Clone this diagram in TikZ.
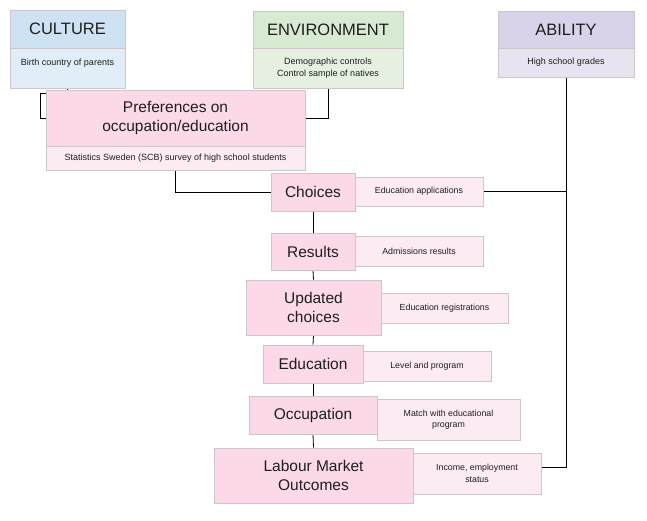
\documentclass[tikz,border=0pt]{standalone}
\usepackage{fontspec}
\setmainfont{Liberation Sans}
\usetikzlibrary{backgrounds}
\definecolor{cultH}{HTML}{CFE2F3}
\definecolor{cultB}{HTML}{E1EDF8}
\definecolor{envH}{HTML}{D9EAD3}
\definecolor{envB}{HTML}{E6F0E1}
\definecolor{abH}{HTML}{D9D2E9}
\definecolor{abB}{HTML}{E7E3F1}
\definecolor{pinkM}{HTML}{FCD9E8}
\definecolor{pinkA}{HTML}{FDEBF3}
\definecolor{bord}{HTML}{CFC6CA}
\definecolor{txt}{HTML}{1E1E1E}
\tikzset{
  box/.style={draw=bord, line width=0.6pt, inner sep=0pt, align=center, text=txt, anchor=center},
  hdr/.style={box, font=\fontsize{16.5}{19}\selectfont},
  sub/.style={box, font=\fontsize{9}{11.5}\selectfont},
  mainbox/.style={box, fill=pinkM, font=\fontsize{15.5}{18.5}\selectfont},
  ann/.style={box, fill=pinkA, font=\fontsize{8.8}{11.5}\selectfont},
  link/.style={line width=0.8pt, black}
}
\begin{document}
\begin{tikzpicture}[x=1pt,y=-1pt]
\useasboundingbox (0,0) rectangle (647,521);
% top categories
\node[hdr, fill=cultH, minimum width=115, minimum height=38] (culh) at (67.5,29) {CULTURE};
\node[sub, fill=cultB, minimum width=115, minimum height=40] (culb) at (67.5,68) {Birth country of parents\\\mbox{}};
\node[hdr, fill=envH, minimum width=150, minimum height=37] (envh) at (328,29.5) {ENVIRONMENT};
\node[sub, fill=envB, minimum width=150, minimum height=40] (envb) at (328,68) {Demographic controls\\Control sample of natives};
\node[hdr, fill=abH, minimum width=136, minimum height=37] (abh) at (566,29.5) {ABILITY};
\node[sub, fill=abB, minimum width=136, minimum height=29] (abb) at (566,62.5) {High school grades};
% preferences
\node[mainbox, minimum width=259, minimum height=56] (prefh) at (175.5,118) {Preferences on\\occupation/education};
\node[sub, fill=pinkA, minimum width=259, minimum height=24] (prefb) at (175.5,158) {Statistics Sweden (SCB) survey of high school students};
% chain
\node[mainbox, minimum width=84, minimum height=38] (cho) at (313,192) {Choices};
\node[ann, minimum width=128, minimum height=29] (choA) at (419,191.5) {Education applications};
\node[mainbox, minimum width=84, minimum height=37] (res) at (313,251.5) {Results};
\node[ann, minimum width=128, minimum height=30] (resA) at (419,251) {Admissions results};
\node[mainbox, minimum width=135, minimum height=55] (upd) at (313.5,307.5) {Updated\\choices};
\node[ann, minimum width=127, minimum height=30] (updA) at (444.5,308) {Education registrations};
\node[mainbox, minimum width=100, minimum height=38] (edu) at (313,364) {Education};
\node[ann, minimum width=128, minimum height=30] (eduA) at (427,366) {Level and program};
\node[mainbox, minimum width=128, minimum height=38] (occ) at (313,415) {Occupation};
\node[ann, minimum width=143, minimum height=41] (occA) at (448.5,419.5) {Match with educational\\program};
\node[mainbox, minimum width=199, minimum height=55] (lab) at (313.5,475.5) {Labour Market\\Outcomes};
\node[ann, minimum width=128, minimum height=41] (labA) at (477,473.5) {Income, employment\\status};
\coordinate (abl) at (566,467);
\coordinate (culturn) at (40,93);
\begin{pgfonlayer}{background}
\draw[link] (culb.south) -- (culb.south |- culturn) -- (culturn) |- (prefh.west);
\draw[link] (envb.south) |- (prefh.east);
\draw[link] (prefb.south) |- (cho.west);
\draw[link] (abb.south) -- (abb.south |- abl) -- (labA.east |- abl);
\draw[link] (choA.east) -- (abb.south |- choA.east);
\draw[link] (cho.south) -- (res.north);
\draw[link] (res.south) -- (upd.north);
\draw[link] (upd.south) -- (edu.north);
\draw[link] (edu.south) -- (occ.north);
\draw[link] (occ.south) -- (lab.north);
\end{pgfonlayer}
\end{tikzpicture}
\end{document}
